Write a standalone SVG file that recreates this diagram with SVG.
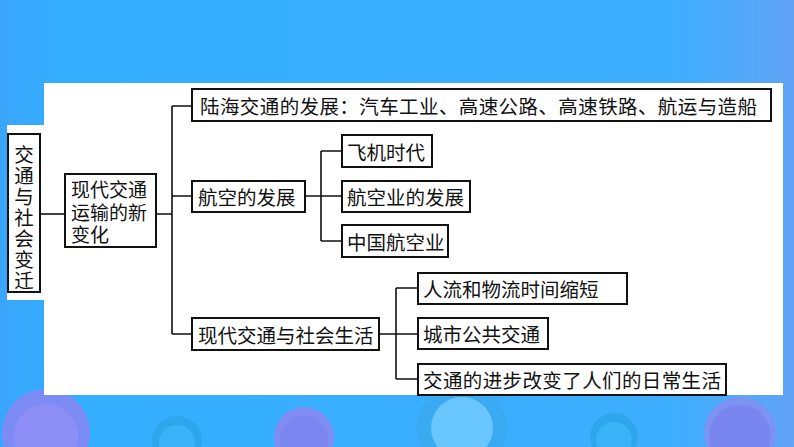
<svg xmlns="http://www.w3.org/2000/svg" width="794" height="447" viewBox="0 0 794 447">
<defs>
<linearGradient id="bg" x1="0" y1="0" x2="1" y2="0">
<stop offset="0" stop-color="#3aa6fb"/>
<stop offset="0.08" stop-color="#33aeff"/>
<stop offset="0.85" stop-color="#3daefd"/>
<stop offset="1" stop-color="#62a3f6"/>
</linearGradient>
<style>
.box{fill:#ffffff;stroke:#111111;stroke-width:2}
.t{font-family:"Noto Sans CJK SC","Noto Sans",sans-serif;font-size:19.5px;fill:#111111;dominant-baseline:central}
.m{font-family:"Liberation Sans","Noto Sans CJK SC",sans-serif;font-size:19px;fill:#111111}
.v{font-family:"Noto Sans CJK SC","Noto Sans",sans-serif;font-size:19.5px;fill:#111111;writing-mode:vertical-rl;letter-spacing:1.5px}
.c{fill:none;stroke:#111111;stroke-width:1.6}
.pur{fill:#8a86f2;opacity:0.85}
.pin{fill:#8d8ff6}
.blu{fill:#2ea6ee}
.bin{fill:#3ab2f8}
</style>
</defs>
<rect x="0" y="0" width="794" height="447" fill="url(#bg)"/>
<g id="decor">
<circle cx="46" cy="433" r="44" class="pur"/>
<circle cx="46" cy="436" r="32" class="pin"/>
<circle cx="177" cy="441" r="25" class="blu"/>
<circle cx="177" cy="443" r="18" class="bin"/>
<circle cx="304" cy="437" r="30" fill="#7f8cf4"/>
<circle cx="304" cy="440" r="24" fill="#7b86f0"/>
<circle cx="462" cy="428" r="45" fill="#3aabf2"/>
<circle cx="462" cy="428" r="31" fill="#6ac6ff"/>
<circle cx="614" cy="437" r="24" class="blu"/>
<circle cx="614" cy="440" r="18" class="bin"/>
<circle cx="740" cy="433" r="36" fill="#7e92f4"/>
<circle cx="740" cy="436" r="31" fill="#7a86ef"/>
</g>
<rect x="44" y="83" width="739" height="312" fill="#ffffff"/>
<rect x="7" y="125" width="37" height="175" fill="#ffffff"/>
<g id="connectors">
<path class="c" d="M40 214H65"/>
<path class="c" d="M156 214H172M172 106V334M172 106H192M172 196H192M172 334H192"/>
<path class="c" d="M305 196H321M321 151V241M321 151H342M321 196H342M321 241H342"/>
<path class="c" d="M379 334H396M396 288V379M396 288H418M396 334H418M396 379H418"/>
</g>
<g id="n-root">
<rect class="box" x="8" y="134" width="32" height="158"/>
<text class="v" x="24" y="145">交通与社会变迁</text>
</g>
<g id="n-modern">
<rect class="box" x="65" y="174" width="91" height="73"/>
<text class="m"><tspan x="71" y="196.5">现代交通</tspan><tspan x="71" y="219.5">运输的新</tspan><tspan x="71" y="242">变化</tspan></text>
</g>
<g id="n-land">
<rect class="box" x="192" y="89" width="579" height="32"/>
<text class="t" x="200" y="105" textLength="557" lengthAdjust="spacing">陆海交通的发展：汽车工业、高速公路、高速铁路、航运与造船</text>
</g>
<g id="n-air">
<rect class="box" x="192" y="181" width="113" height="31"/>
<text class="t" x="198" y="196.5">航空的发展</text>
</g>
<g id="n-plane">
<rect class="box" x="342" y="135" width="90" height="32"/>
<text class="t" x="347" y="151">飞机时代</text>
</g>
<g id="n-airdev">
<rect class="box" x="342" y="181" width="128" height="31"/>
<text class="t" x="347" y="196.5">航空业的发展</text>
</g>
<g id="n-china">
<rect class="box" x="342" y="225" width="106" height="32"/>
<text class="t" x="347" y="241">中国航空业</text>
</g>
<g id="n-life">
<rect class="box" x="192" y="318" width="187" height="32"/>
<text class="t" x="198" y="334">现代交通与社会生活</text>
</g>
<g id="n-flow">
<rect class="box" x="418" y="273" width="209" height="31"/>
<text class="t" x="423" y="288.5">人流和物流时间缩短</text>
</g>
<g id="n-city">
<rect class="box" x="418" y="318" width="130" height="31"/>
<text class="t" x="423" y="333.5">城市公共交通</text>
</g>
<g id="n-daily">
<rect class="box" x="418" y="364" width="308" height="31"/>
<text class="t" x="423" y="379.5" textLength="298" lengthAdjust="spacing">交通的进步改变了人们的日常生活</text>
</g>
</svg>
